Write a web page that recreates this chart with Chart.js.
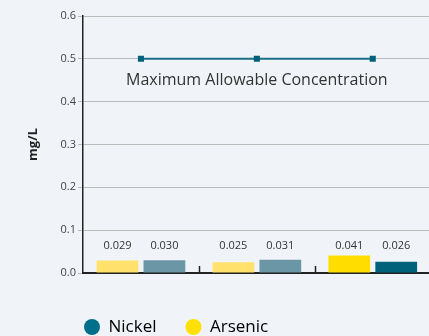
<!DOCTYPE html>
<html>
<head>
<meta charset="utf-8">
<script src="https://cdn.jsdelivr.net/npm/chart.js@4.4.1/dist/chart.umd.min.js"></script>
<style>
  html, body { margin: 0; padding: 0; background: #f0f4f8; overflow: hidden; }
  #wrap { width: 435px; height: 336px; }
</style>
</head>
<body>
<div id="wrap"><canvas id="chart"></canvas></div>
<script>
const years = ['2017', '2018', '2019'];
const arsenicValues = [0.029, 0.025, 0.041];
const nickelValues = [0.030, 0.031, 0.026];
const limitValues = [0.5, 0.5, 0.5];
const limitLabel = 'Maximum Allowable Concentration';
const yTicks = [0, 0.1, 0.2, 0.3, 0.4, 0.5, 0.6];

const arsenicColors = ['#ffe16b', '#ffe16b', '#ffdd00'];
const nickelColors = ['#6b96a5', '#6b96a5', '#00617b'];

const FONT = "'Open Sans', sans-serif";
const LEGEND_GAP = 29;

// move the legend row under the plot, where the original has it
const legendPlace = {
    id: 'legendPlace',
    afterLayout(chart) {
        const lg = chart.legend;
        lg.left = chart.chartArea.left + 1 - LEGEND_GAP;
        lg.top = chart.height - 9 - 8.5 - LEGEND_GAP;
    }
};

// value labels, limit caption and the small upward ticks between years
const extras = {
    id: 'extras',
    afterDatasetsDraw(chart) {
        const ctx = chart.ctx;
        const area = chart.chartArea;
        const x = chart.scales.x;

        ctx.save();

        // ticks between categories
        ctx.strokeStyle = '#222';
        ctx.lineWidth = 1.5;
        for (let i = 0; i < years.length - 1; i++) {
            const px = (x.getPixelForValue(i) + x.getPixelForValue(i + 1)) / 2;
            ctx.beginPath();
            ctx.moveTo(Math.round(px) + 0.5, area.bottom);
            ctx.lineTo(Math.round(px) + 0.5, area.bottom - 7);
            ctx.stroke();
        }

        // bar value labels
        ctx.fillStyle = '#333';
        ctx.font = '11px ' + FONT;
        ctx.textAlign = 'center';
        ctx.textBaseline = 'middle';
        [0, 1].forEach(di => {
            const meta = chart.getDatasetMeta(di);
            meta.data.forEach((bar, i) => {
                const v = chart.data.datasets[di].data[i];
                ctx.fillText(v.toFixed(3), bar.x, area.bottom - 27);
            });
        });

        // limit line caption
        const lineMeta = chart.getDatasetMeta(2);
        const mid = lineMeta.data[1];
        ctx.font = '16px ' + FONT;
        ctx.fillStyle = '#333';
        ctx.fillText(limitLabel, mid.x, mid.y + 22);

        ctx.restore();
    }
};

new Chart(document.getElementById('chart'), {
    type: 'bar',
    data: {
        labels: years,
        datasets: [
            {
                label: 'Arsenic',
                data: arsenicValues,
                backgroundColor: arsenicColors,
                categoryPercentage: 0.81,
                barPercentage: 0.89,
                order: 2
            },
            {
                label: 'Nickel',
                data: nickelValues,
                backgroundColor: nickelColors,
                categoryPercentage: 0.81,
                barPercentage: 0.89,
                order: 2
            },
            {
                type: 'line',
                label: limitLabel,
                data: limitValues,
                borderColor: '#1d6f88',
                backgroundColor: '#00617b',
                borderWidth: 2,
                pointStyle: 'rect',
                pointRadius: 4.3,
                pointBorderWidth: 0,
                order: 1
            }
        ]
    },
    options: {
        responsive: true,
        maintainAspectRatio: false,
        animation: false,
        layout: { padding: { top: 16, right: 0, bottom: 0, left: 0 } },
        plugins: {
            tooltip: { enabled: false },
            legend: {
                position: 'bottom',
                align: 'start',
                reverse: true,
                labels: {
                    usePointStyle: true,
                    pointStyle: 'circle',
                    boxWidth: 16,
                    boxHeight: 11.3,
                    color: '#333',
                    padding: LEGEND_GAP,
                    font: { family: FONT, size: 17 },
                    generateLabels: chart => [
                        { text: 'Arsenic', fillStyle: '#ffe000', strokeStyle: '#ffe000', lineWidth: 0, pointStyle: 'circle', datasetIndex: 0 },
                        { text: 'Nickel', fillStyle: '#00708a', strokeStyle: '#00708a', lineWidth: 0, pointStyle: 'circle', datasetIndex: 1 }
                    ]
                }
            }
        },
        scales: {
            x: {
                grid: { display: false },
                border: { color: '#222', width: 2 },
                ticks: {
                    color: '#222',
                    padding: 8,
                    font: { family: FONT, size: 11, weight: 'bold' }
                },
                afterFit: s => { s.height = 7; }
            },
            y: {
                min: 0,
                max: 0.6,
                afterBuildTicks: s => { s.ticks = yTicks.map(v => ({ value: v })); },
                grid: { color: '#bbb', lineWidth: 1, tickLength: 5 },
                border: { color: '#222', width: 1.5 },
                ticks: {
                    color: '#444',
                    padding: 2,
                    font: { family: FONT, size: 11 },
                    callback: v => Number(v).toFixed(1)
                },
                title: {
                    display: true,
                    text: 'mg/L',
                    color: '#222',
                    font: { family: FONT, size: 13, weight: 'bold' },
                    padding: { top: 25, bottom: 0 }
                },
                afterFit: s => { s.width = 83; }
            }
        }
    },
    plugins: [legendPlace, extras]
});
</script>
</body>
</html>
